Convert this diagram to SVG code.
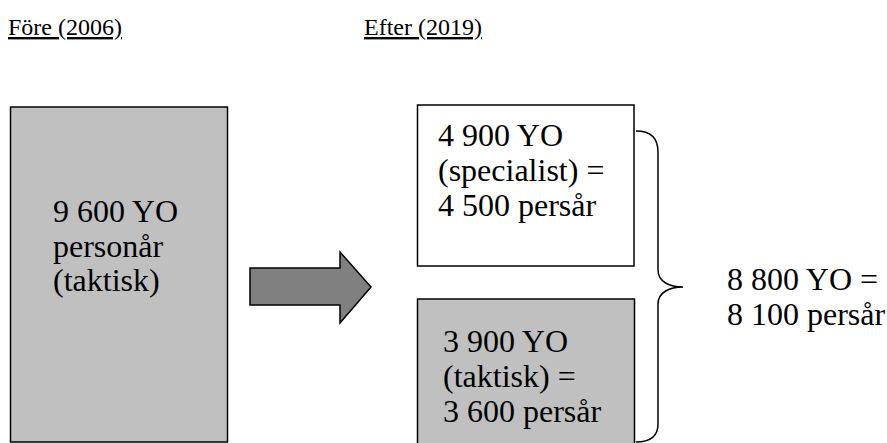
<svg xmlns="http://www.w3.org/2000/svg" width="887" height="443" viewBox="0 0 887 443">
<style>
text{font-family:"Liberation Serif","Times New Roman",serif;fill:#000}
.t{font-size:24px;text-decoration:underline}
.b{font-size:32px}
.box{stroke:#000;stroke-width:1.5}
</style>
<rect width="887" height="443" fill="#fff"/>
<g id="title-before"><text class="t" x="8" y="35">Före (2006)</text></g>
<g id="title-after"><text class="t" x="364" y="35">Efter (2019)</text></g>
<g id="before">
<rect class="box" x="10.5" y="107" width="217" height="335" fill="#c0c0c0"/>
<text class="b" x="53" y="222">9 600 YO</text>
<text class="b" x="53" y="257">personår</text>
<text class="b" x="53" y="291">(taktisk)</text>
</g>
<g id="specialist">
<rect class="box" x="417.5" y="105" width="216.5" height="161" fill="#fff"/>
<text class="b" x="438" y="146">4 900 YO</text>
<text class="b" x="438" y="181">(specialist) =</text>
<text class="b" x="438" y="216">4 500 persår</text>
</g>
<g id="taktisk">
<rect class="box" x="417.5" y="299" width="217" height="150" fill="#c0c0c0"/>
<text class="b" x="443" y="352">3 900 YO</text>
<text class="b" x="443" y="387">(taktisk) =</text>
<text class="b" x="443" y="422">3 600 persår</text>
</g>
<g id="total">
<text class="b" x="727" y="290">8 800 YO =</text>
<text class="b" x="727" y="325">8 100 persår</text>
</g>
<g id="connectors">
<polygon points="250,268 340,268 340,252 371,287 340,323 340,305 250,305" fill="#808080" stroke="#000" stroke-width="1.5"/>
<path d="M636,131 C650,131 658,138 658,152 L658,270 C658,282 670,287 683,287 C670,287 658,292 658,304 L658,424 C658,436 650,442 636,442" fill="none" stroke="#000" stroke-width="1.5"/>
</g>
</svg>
